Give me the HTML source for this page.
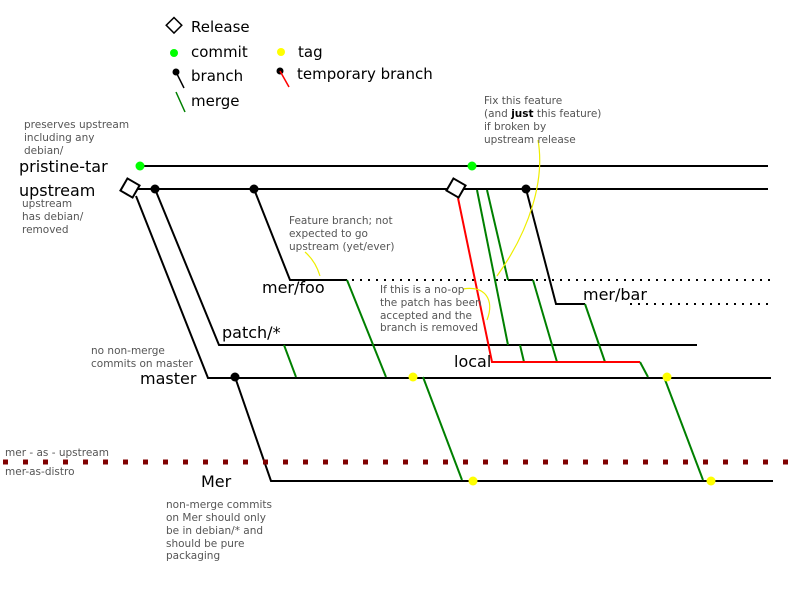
<!DOCTYPE html>
<html><head><meta charset="utf-8"><style>body{margin:0;background:#fff}svg{display:block}text{font-family:"DejaVu Sans","Liberation Sans",sans-serif}</style></head><body>
<svg width="800" height="600" viewBox="0 0 800 600">
<!-- legend -->
<g font-size="15" fill="#000">
<rect x="168" y="20" width="11" height="11" fill="#fff" stroke="#000" stroke-width="1.5" transform="rotate(45 174 26)"/>
<text x="191" y="32">Release</text>
<circle cx="174" cy="53" r="4" fill="#0f0"/><text x="191" y="57">commit</text>
<circle cx="176" cy="72" r="3.5"/><line x1="176" y1="72" x2="184" y2="88" stroke="#000" stroke-width="1.5"/><text x="191" y="81">branch</text>
<line x1="176" y1="92" x2="185" y2="112" stroke="green" stroke-width="1.5"/><text x="191" y="106">merge</text>
<circle cx="281" cy="52" r="4" fill="#ff0"/><text x="298" y="57">tag</text>
<circle cx="280" cy="71" r="3.5"/><line x1="280" y1="71" x2="289" y2="87" stroke="red" stroke-width="1.5"/><text x="297" y="79">temporary branch</text>
</g>
<!-- black lines -->
<g stroke="#000" stroke-width="2" fill="none">
<line x1="140" y1="166" x2="768" y2="166"/>
<line x1="130" y1="189" x2="768" y2="189"/>
<polyline points="136,196 208,378 771,378"/>
<polyline points="155,189 219,345 697,345"/>
<polyline points="254,189 290,280 347,280"/>
<polyline points="526,189 556,304 585,304"/>
<line x1="508" y1="280" x2="533" y2="280"/>
<polyline points="235,377 271,481 773,481"/>
</g>
<g stroke="#000" stroke-width="2" stroke-dasharray="2,6" fill="none">
<line x1="352" y1="280" x2="770" y2="280"/>
<line x1="630" y1="304" x2="770" y2="304"/>
</g>
<!-- green merges -->
<g stroke="green" stroke-width="2" fill="none">
<line x1="477" y1="190" x2="508" y2="345"/>
<line x1="487" y1="190" x2="508" y2="280"/>
<line x1="533" y1="280" x2="557" y2="362"/>
<line x1="520" y1="345" x2="524" y2="362"/>
<line x1="585" y1="304" x2="605" y2="362"/>
<line x1="640" y1="362" x2="648" y2="377"/>
<line x1="664" y1="377" x2="703" y2="480"/>
<line x1="423" y1="377" x2="462" y2="480"/>
<line x1="284" y1="345" x2="296" y2="377"/>
<line x1="347" y1="280" x2="386" y2="377"/>
</g>
<polyline points="458,198 492,362 640,362" stroke="red" stroke-width="2" fill="none"/>
<line x1="0" y1="462" x2="800" y2="462" stroke="#800000" stroke-width="5" stroke-dasharray="5,15" transform="translate(3,0)"/>
<!-- nodes -->
<rect x="123" y="181" width="14" height="14" fill="#fff" stroke="#000" stroke-width="2" transform="rotate(30 130 188)"/>
<rect x="449" y="181" width="14" height="14" fill="#fff" stroke="#000" stroke-width="2" transform="rotate(30 456 188)"/>
<g fill="#000"><circle cx="155" cy="189" r="4.5"/><circle cx="254" cy="189" r="4.5"/><circle cx="526" cy="189" r="4.5"/><circle cx="235" cy="377" r="4.5"/></g>
<g fill="#0f0"><circle cx="140" cy="166" r="4.5"/><circle cx="472" cy="166" r="4.5"/></g>
<g fill="#ff0"><circle cx="413" cy="377" r="4.5"/><circle cx="667" cy="377" r="4.5"/><circle cx="473" cy="481" r="4.5"/><circle cx="711" cy="481" r="4.5"/></g>
<!-- annotation arrows -->
<g stroke="#ee0" stroke-width="1.2" fill="none">
<path d="M538,140 C545,180 530,230 497,276"/>
<path d="M305,252 C312,258 317,266 320,276"/>
<path d="M463,289 C485,285 495,300 487,320"/>
</g>
<!-- labels -->
<g font-size="16" fill="#000">
<text x="19" y="172">pristine-tar</text>
<text x="19" y="196">upstream</text>
<text x="262" y="293">mer/foo</text>
<text x="222" y="338">patch/*</text>
<text x="140" y="384">master</text>
<text x="454" y="367">local</text>
<text x="583" y="300">mer/bar</text>
<text x="201" y="487">Mer</text>
</g>
<g font-size="10.5" fill="#555">
<text x="24" y="128">preserves upstream</text><text x="24" y="141">including any</text><text x="24" y="154">debian/</text>
<text x="22" y="207">upstream</text><text x="22" y="220">has debian/</text><text x="22" y="233">removed</text>
<text x="289" y="224">Feature branch; not</text><text x="289" y="237">expected to go</text><text x="289" y="250">upstream (yet/ever)</text>
<text x="484" y="104">Fix this feature</text><text x="484" y="117">(and <tspan font-weight="bold" fill="#000">just</tspan> this feature)</text><text x="484" y="130">if broken by</text><text x="484" y="143">upstream release</text>
<text x="380" y="293">If this is a no-op</text><text x="380" y="306">the patch has been</text><text x="380" y="319">accepted and the</text><text x="380" y="331">branch is removed</text>
<text x="91" y="354">no non-merge</text><text x="91" y="367">commits on master</text>
<text x="5" y="456">mer - as - upstream</text><text x="5" y="475">mer-as-distro</text>
<text x="166" y="508">non-merge commits</text><text x="166" y="521">on Mer should only</text><text x="166" y="534">be in debian/* and</text><text x="166" y="547">should be pure</text><text x="166" y="559">packaging</text>
</g>
</svg>
</body></html>
